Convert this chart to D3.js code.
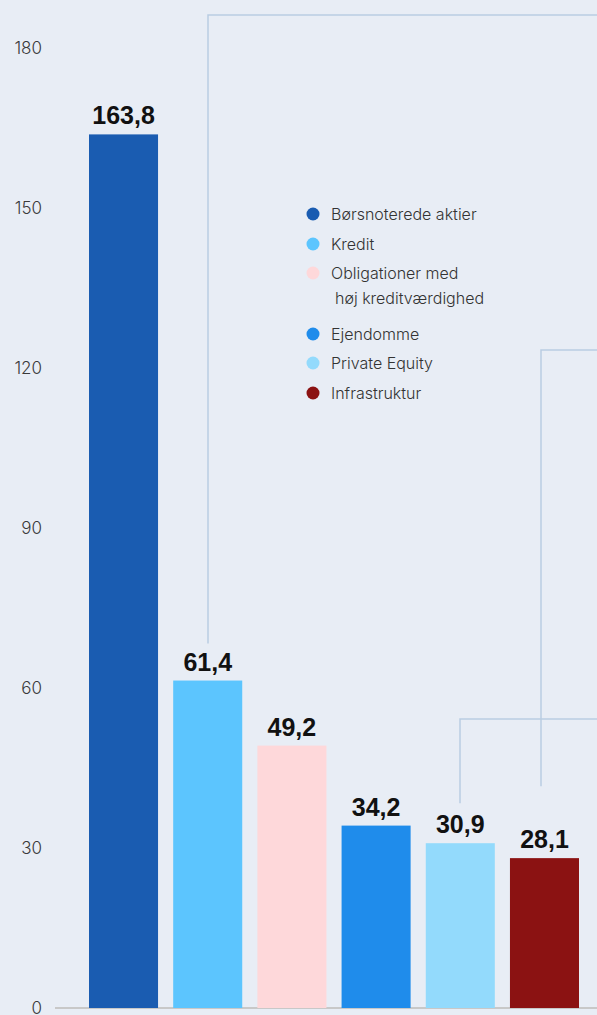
<!DOCTYPE html>
<html>
<head>
<meta charset="utf-8">
<script src="https://cdn.jsdelivr.net/npm/d3@7"></script>
<style>
  html, body { margin: 0; padding: 0; background: #e8edf5; }
  svg { display: block; }
  .tick-label { font-family: Inter, "Noto Sans", sans-serif; font-size: 17px; fill: #3a3a3a; font-weight: 300; }
  .value-label { font-family: "Liberation Sans", Arial, sans-serif; font-size: 25px; font-weight: bold; fill: #111; }
  .legend-label { font-family: Inter, "Noto Sans", sans-serif; font-size: 16px; fill: #333; font-weight: 300; }
</style>
</head>
<body>
<div id="chart"></div>
<script>
// Data
var categories = ['Børsnoterede aktier', 'Kredit', 'Obligationer med høj kreditværdighed', 'Ejendomme', 'Private Equity', 'Infrastruktur'];
var values = [163.8, 61.4, 49.2, 34.2, 30.9, 28.1];
var barColors = ['#1a5cb1', '#5cc5fe', '#fed8da', '#1f8ceb', '#93dafc', '#8b1212'];
var yTicks = [0, 30, 60, 90, 120, 150, 180];
var legendLines = [['Børsnoterede aktier'], ['Kredit'], ['Obligationer med', 'høj kreditværdighed'], ['Ejendomme'], ['Private Equity'], ['Infrastruktur']];

var W = 597, H = 1015;
var svg = d3.select('#chart').append('svg').attr('width', W).attr('height', H);

var y = d3.scaleLinear().domain([0, 180]).range([1008, 48]);
var x = d3.scaleBand().domain(d3.range(categories.length)).range([89, 579]).paddingInner(0.18).paddingOuter(0);

// Y tick labels (no gridlines)
svg.append('g').selectAll('text').data(yTicks).enter().append('text')
  .attr('class', 'tick-label')
  .attr('x', 42)
  .attr('y', function(d) { return y(d); })
  .attr('dy', '0.35em')
  .attr('text-anchor', 'end')
  .text(function(d) { return d; });

// baseline
svg.append('line')
  .attr('x1', 55).attr('x2', W)
  .attr('y1', y(0)).attr('y2', y(0))
  .attr('stroke', '#c8c8c8').attr('stroke-width', 2);

// bars
svg.append('g').selectAll('rect').data(values).enter().append('rect')
  .attr('x', function(d, i) { return x(i); })
  .attr('y', function(d) { return y(d); })
  .attr('width', x.bandwidth())
  .attr('height', function(d) { return y(0) - y(d); })
  .attr('fill', function(d, i) { return barColors[i]; });

// value labels
svg.append('g').selectAll('text').data(values).enter().append('text')
  .attr('class', 'value-label')
  .attr('x', function(d, i) { return x(i) + x.bandwidth() / 2; })
  .attr('y', function(d) { return y(d) - 10; })
  .attr('text-anchor', 'middle')
  .text(function(d) { return d3.format('.1f')(d).replace('.', ','); });

// connector lines (bar index, horizontal y, gap above bar)
var connectors = [
  { i: 1, top: 15, gap: 37 },
  { i: 5, top: 350, gap: 72 },
  { i: 4, top: 719, gap: 40 }
];
var lineColor = '#b9cde2';
connectors.forEach(function(c) {
  var cx = Math.round(x(c.i) + x.bandwidth() / 2) - (c.i === 5 ? 3 : 0);
  var bottom = y(values[c.i]) - c.gap;
  svg.append('path')
    .attr('d', 'M' + cx + ',' + bottom + 'V' + c.top + 'H' + W)
    .attr('fill', 'none')
    .attr('stroke', lineColor)
    .attr('stroke-width', 1.5);
});

// legend
var legendRowsY = [214, 244, 273, 334, 363, 393];
var legend = svg.append('g');
legendLines.forEach(function(lines, i) {
  var row = legend.append('g').attr('transform', 'translate(313,' + legendRowsY[i] + ')');
  row.append('circle').attr('r', 6.5).attr('fill', barColors[i]);
  lines.forEach(function(t, j) {
    row.append('text')
      .attr('class', 'legend-label')
      .attr('x', j === 0 ? 18 : 22)
      .attr('y', j * 25)
      .attr('dy', '0.35em')
      .text(t);
  });
});
</script>
</body>
</html>
